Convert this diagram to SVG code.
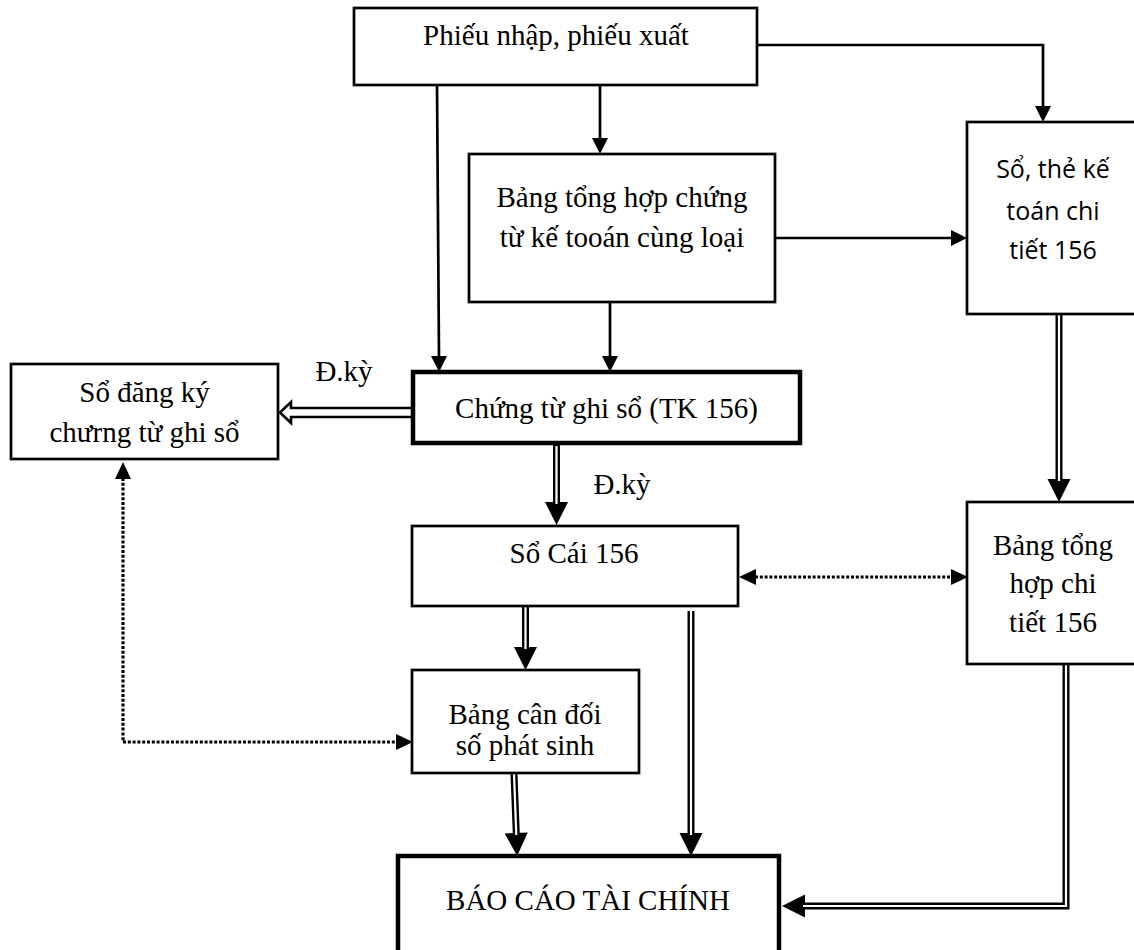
<svg xmlns="http://www.w3.org/2000/svg" width="1134" height="950" viewBox="0 0 1134 950">
  <style>
    .box { fill: #fff; stroke: #000; stroke-width: 2.7; }
    .box-thick { fill: #fff; stroke: #000; stroke-width: 4.5; }
    .t { font-family: "Liberation Serif", "Times New Roman", serif; font-size: 29px; fill: #000; text-anchor: middle; }
    .ts { font-family: "Open Sans", "Noto Sans", sans-serif; font-size: 25px; fill: #000; text-anchor: middle; }
    .line { fill: none; stroke: #000; stroke-width: 2.7; }
    .dbl-outer { fill: none; stroke: #000; stroke-width: 7; }
    .dbl-inner { fill: none; stroke: #fff; stroke-width: 2.2; }
    .dot { fill: none; stroke: #000; stroke-width: 3.2; stroke-dasharray: 3 1.8; }
  </style>
  <defs>
    <!-- single-line arrowhead: path ends at the base, head extends forward -->
    <marker id="ah" markerUnits="userSpaceOnUse" markerWidth="16" markerHeight="16" refX="0" refY="8" orient="auto" overflow="visible">
      <path d="M-1,0 L15,8 L-1,16 Z" fill="#000"/>
    </marker>
    <!-- double-line arrowhead -->
    <marker id="ah2" markerUnits="userSpaceOnUse" markerWidth="23" markerHeight="23" refX="0" refY="11.5" orient="auto" overflow="visible">
      <path d="M-1,0 L22,11.5 L-1,23 Z" fill="#000"/>
    </marker>
    <!-- dotted-line arrowhead, usable at both ends -->
    <marker id="ahd" markerUnits="userSpaceOnUse" markerWidth="17" markerHeight="17" refX="0" refY="8" orient="auto-start-reverse" overflow="visible">
      <path d="M-1,0 L16,8 L-1,16 Z" fill="#000"/>
    </marker>
  </defs>

  <rect width="1134" height="950" fill="#fff"/>

  <!-- connectors -->
  <g id="connectors">
    <!-- single solid arrows -->
    <path class="line" d="M757,45 H1043 V107" marker-end="url(#ah)"/>
    <path class="line" d="M600,85 V139" marker-end="url(#ah)"/>
    <path class="line" d="M437,85 L439,357" marker-end="url(#ah)"/>
    <path class="line" d="M610,302 V357" marker-end="url(#ah)"/>
    <path class="line" d="M775,238 H952" marker-end="url(#ah)"/>

    <!-- double-line arrows -->
    <path class="dbl-outer" d="M1059,314 V480" marker-end="url(#ah2)"/>
    <path class="dbl-inner" d="M1059,314 V481"/>

    <path class="dbl-outer" d="M556.5,445 V503" marker-end="url(#ah2)"/>
    <path class="dbl-inner" d="M556.5,446 V504"/>

    <path class="dbl-outer" d="M525.5,607 V648" marker-end="url(#ah2)"/>
    <path class="dbl-inner" d="M525.5,607 V649"/>

    <path class="dbl-outer" d="M514,774 L516.3,834" marker-end="url(#ah2)"/>
    <path class="dbl-inner" d="M514,774 L516.3,835"/>

    <path class="dbl-outer" d="M691,611 V834" marker-end="url(#ah2)"/>
    <path class="dbl-inner" d="M691,611 V835"/>

    <path class="dbl-outer" d="M1066,665 V906 H804" marker-end="url(#ah2)"/>
    <path class="dbl-inner" d="M1066,665 V906 H803"/>

    <!-- hollow double arrow into the register -->
    <path d="M413,408 H291 V402 L280,412.5 L291,423 V417 H413" fill="#fff" stroke="#000" stroke-width="2.6" stroke-linejoin="miter"/>

    <!-- dotted two-way arrows -->
    <path class="dot" d="M755,577 H952" marker-start="url(#ahd)" marker-end="url(#ahd)"/>
    <path class="dot" d="M123,478 V742 H397" marker-start="url(#ahd)" marker-end="url(#ahd)"/>

    <!-- period labels -->
    <text class="t" x="344" y="381">Đ.kỳ</text>
    <text class="t" x="622" y="494">Đ.kỳ</text>
  </g>

  <g id="phieu">
    <rect class="box" x="354" y="8" width="403" height="77"/>
    <text class="t" x="556" y="45">Phiếu nhập, phiếu xuất</text>
  </g>

  <g id="bang-tong-hop-chung-tu">
    <rect class="box" x="469" y="154" width="306" height="148"/>
    <text class="t" x="622" y="207">Bảng tổng hợp chứng</text>
    <text class="t" x="622" y="247">từ kế tooán cùng loại</text>
  </g>

  <g id="so-the-chi-tiet">
    <rect class="box" x="967" y="122" width="200" height="192"/>
    <text class="ts" x="1053" y="178">Sổ, thẻ kế</text>
    <text class="ts" x="1053" y="220">toán chi</text>
    <text class="ts" x="1053" y="259">tiết 156</text>
  </g>

  <g id="chung-tu-ghi-so">
    <rect class="box-thick" x="413" y="372" width="387" height="71"/>
    <text class="t" x="606.5" y="418">Chứng từ ghi sổ (TK 156)</text>
  </g>

  <g id="so-dang-ky">
    <rect class="box" x="11" y="364" width="267" height="95"/>
    <text class="t" x="144.5" y="402">Sổ đăng ký</text>
    <text class="t" x="144.5" y="442">chưrng từ ghi sổ</text>
  </g>

  <g id="so-cai">
    <rect class="box" x="412" y="526" width="326" height="80"/>
    <text class="t" x="574" y="563">Sổ Cái 156</text>
  </g>

  <g id="bang-tong-hop-chi-tiet">
    <rect class="box" x="967" y="502" width="200" height="162"/>
    <text class="t" x="1053" y="555">Bảng tổng</text>
    <text class="t" x="1053" y="593">hợp chi</text>
    <text class="t" x="1053" y="632">tiết 156</text>
  </g>

  <g id="bang-can-doi">
    <rect class="box" x="412" y="670" width="227" height="103"/>
    <text class="t" x="525" y="724">Bảng cân đối</text>
    <text class="t" x="525" y="755">số phát sinh</text>
  </g>

  <g id="bao-cao-tai-chinh">
    <rect class="box-thick" x="398" y="856" width="381" height="97"/>
    <text class="t" x="588" y="910">BÁO CÁO TÀI CHÍNH</text>
  </g>
</svg>
